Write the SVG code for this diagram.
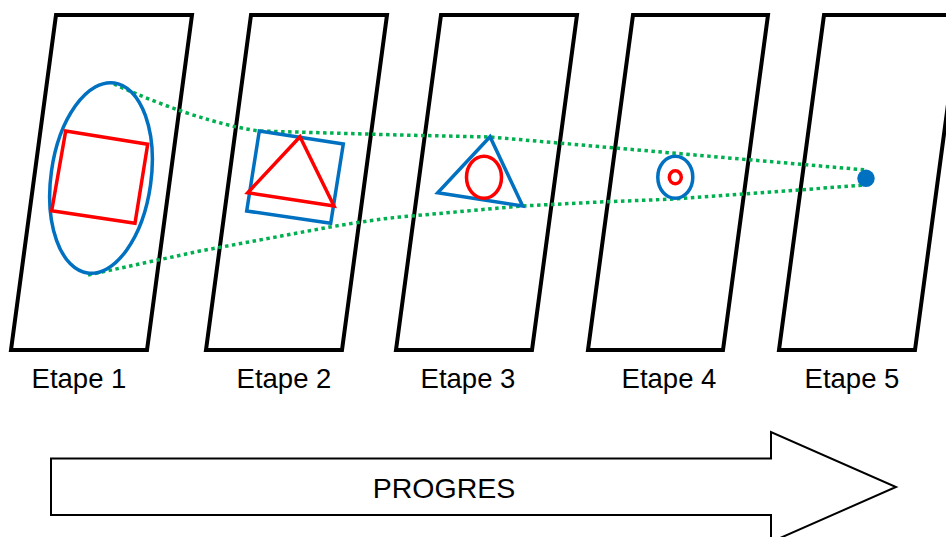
<svg xmlns="http://www.w3.org/2000/svg" width="946" height="537" viewBox="0 0 946 537">
<style>
.panel{fill:#fff;stroke:#000;stroke-width:4;stroke-linejoin:miter}
.blue{fill:none;stroke:#0070C0;stroke-width:3.5}
.red{fill:none;stroke:#FF0000;stroke-width:3.5}
.dots{fill:none;stroke:#00B050;stroke-width:3.5;stroke-dasharray:3.5 3.5}
.lbl{font-family:"Liberation Sans",Arial,sans-serif;font-size:27.5px;fill:#000;text-anchor:middle}
</style>
<rect width="946" height="537" fill="#fff"/>
<g id="panel1"><polygon class="panel" points="56,15 192,15 147,350 11,350"/><text class="lbl" x="79" y="388">Etape 1</text></g>
<g id="panel2"><polygon class="panel" points="251,15 387,15 342,350 206,350"/><text class="lbl" x="284" y="388">Etape 2</text></g>
<g id="panel3"><polygon class="panel" points="441,15 577,15 532,350 396,350"/><text class="lbl" x="468" y="388">Etape 3</text></g>
<g id="panel4"><polygon class="panel" points="633,15 768,15 723,350 588,350"/><text class="lbl" x="669" y="388">Etape 4</text></g>
<g id="panel5"><polygon class="panel" points="824,15 960,15 915,350 779,350"/><text class="lbl" x="852" y="388">Etape 5</text></g>
<g id="connectors">
<path class="dots" d="M114,84 C140,96 180,112 210,120 C230,126 245,129 259,131 L400,135 L490,137 L866,170"/>
<path class="dots" d="M88,275 L200,251 L330,227 C360,222 380,219 400,217 L522,206 L600,202 L675,199 L866,185"/>
</g>
<g id="shape1">
<ellipse class="blue" cx="101" cy="178" rx="50" ry="96" transform="rotate(8 101 178)"/>
<polygon class="red" points="65.7,131 147.7,144.3 135,223.3 51.7,210.7"/>
</g>
<g id="shape2">
<polygon class="blue" points="259.3,131 343.3,144 330.7,223.3 246.7,211"/>
<polygon class="red" points="300,136.7 247.7,192.7 334,206"/>
</g>
<g id="shape3">
<polygon class="blue" points="490,136.7 437.7,192.7 522.7,206"/>
<ellipse class="red" cx="484" cy="177.3" rx="17.5" ry="21"/>
</g>
<g id="shape4">
<ellipse class="blue" cx="675.3" cy="177.3" rx="17.5" ry="21"/>
<ellipse class="red" cx="675.3" cy="177.3" rx="6" ry="6.5"/>
</g>
<g id="shape5"><circle cx="866" cy="178.3" r="8.7" fill="#0070C0"/></g>
<g id="progress">
<polygon points="51,458.5 771,458.5 771,432 896,487 771,542 771,515 51,515" fill="#fff" stroke="#000" stroke-width="2"/>
<text class="lbl" x="444" y="497.5" style="font-size:28.5px">PROGRES</text>
</g>
</svg>
